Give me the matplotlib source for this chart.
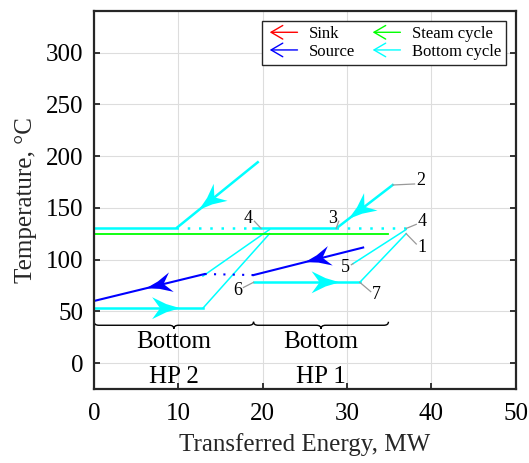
import numpy as np
import matplotlib
matplotlib.use("Agg")
import matplotlib.pyplot as plt
from matplotlib.lines import Line2D
from matplotlib.patches import FancyArrowPatch, Polygon, PathPatch
from matplotlib.path import Path
from matplotlib.legend_handler import HandlerBase

plt.rcParams['font.family'] = ['Liberation Serif', 'DejaVu Serif']

CYAN = '#00FFFF'
BLUE = '#0000FF'
GREEN = '#00FF00'
RED = '#FF0000'
LEADER = '#999999'

# --- bottom heat pump 2 (left) ---
hp2_cond_x = [19.4, 9.7, 0.0]
hp2_cond_y = [194, 130, 130]
hp2_evap_x = [0.0, 12.9]
hp2_evap_y = [53, 53]
hp2_comp_x = [12.9, 20.8]
hp2_comp_y = [53, 125]
hp2_valve_x = [20.8, 12.9]
hp2_valve_y = [129, 84]
hp2_gap_x = [9.7, 18.9]
hp2_gap_y = [130, 130]

# --- bottom heat pump 1 (right) ---
hp1_cond_x = [35.4, 28.7, 18.9]
hp1_cond_y = [172, 130, 130]
hp1_evap_x = [18.9, 31.5]
hp1_evap_y = [78, 78]
hp1_comp_x = [31.5, 37.0]
hp1_comp_y = [78, 125]
hp1_valve_x = [37.0, 30.7]
hp1_valve_y = [129, 96]
hp1_gap_x = [28.7, 37.0]
hp1_gap_y = [130, 130]

# --- source and steam cycle ---
src2_x = [0.0, 13.1]
src2_y = [60, 86]
src_gap_x = [13.1, 18.9]
src_gap_y = [86, 85]
src1_x = [18.9, 31.9]
src1_y = [85, 111.6]
steam_x = [0.0, 34.9]
steam_y = [125, 125]

# state point labels: (text, label x, label y, point x, point y)
point_labels = [
    ('2', 38.7, 176, 35.4, 172),
    ('3', 28.3, 140, 28.7, 130),
    ('4', 38.9, 137, 37.0, 130),
    ('1', 38.9, 112, 37.0, 125),
    ('5', 29.8, 92, 30.7, 96),
    ('7', 33.5, 66, 31.5, 78),
    ('4', 18.3, 140, 19.8, 130),
    ('6', 17.0, 70, 18.9, 78),
]

legend_names = ['Sink', 'Source', 'Steam cycle', 'Bottom cycle']
legend_colors = [RED, BLUE, GREEN, CYAN]

group_names = ['Bottom\nHP 2', 'Bottom\nHP 1']
group_spans = [(0.0, 18.9), (18.9, 34.9)]


class HandlerArrow(HandlerBase):
    def create_artists(self, legend, orig_handle, xdescent, ydescent,
                       width, height, fontsize, trans):
        y = height / 2 - ydescent
        a = FancyArrowPatch((width - xdescent, y), (-xdescent, y),
                            arrowstyle='->,head_length=0.6,head_width=0.35',
                            mutation_scale=14, color=orig_handle.get_color(),
                            lw=1.0, transform=trans)
        return [a]


def arrow_head(ax, xs, ys, tip_frac, color, L=26, W=10, notch=8):
    # notched arrow head with slightly concave sides, built in pixel space
    p0 = ax.transData.transform((xs[0], ys[0]))
    p1 = ax.transData.transform((xs[1], ys[1]))
    d = (p1 - p0) / np.linalg.norm(p1 - p0)
    n = np.array([-d[1], d[0]])
    tip = p0 + (p1 - p0) * tip_frac
    pts = [tip,
           tip - 0.5 * L * d + 0.38 * W * n,
           tip - L * d + W * n,
           tip - (L - notch) * d,
           tip - L * d - W * n,
           tip - 0.5 * L * d - 0.38 * W * n]
    pts = ax.transData.inverted().transform(np.array(pts))
    ax.add_patch(Polygon(pts, closed=True, color=color, lw=0, zorder=4))


def brace(ax, x0, x1, y, h=3.4, dx=0.55):
    xm = (x0 + x1) / 2
    verts = [(x0, y + h), (x0, y), (x0 + dx, y),
             (xm - dx, y), (xm, y), (xm, y - h),
             (xm, y), (xm + dx, y),
             (x1 - dx, y), (x1, y), (x1, y + h)]
    codes = [Path.MOVETO, Path.CURVE3, Path.CURVE3,
             Path.LINETO, Path.CURVE3, Path.CURVE3,
             Path.CURVE3, Path.CURVE3,
             Path.LINETO, Path.CURVE3, Path.CURVE3]
    ax.add_patch(PathPatch(Path(verts, codes), fill=False, ec='black', lw=1.0))


fig = plt.figure(figsize=(5.29, 4.63), dpi=100)
ax = fig.add_axes([0.178, 0.160, 0.797, 0.816])
ax.set_xlim(0, 50)
ax.set_ylim(-25, 340)

# thick = heat exchange, thin = compressor/valve
ax.plot(hp2_cond_x, hp2_cond_y, color=CYAN, lw=1.8)
ax.plot(hp2_evap_x, hp2_evap_y, color=CYAN, lw=1.8)
ax.plot(hp2_comp_x, hp2_comp_y, color=CYAN, lw=1.1)
ax.plot(hp2_valve_x, hp2_valve_y, color=CYAN, lw=1.1)
ax.plot(hp2_gap_x, hp2_gap_y, color=CYAN, lw=1.8, ls=(0, (1, 3.5)))
ax.plot(hp1_cond_x, hp1_cond_y, color=CYAN, lw=1.8)
ax.plot(hp1_evap_x, hp1_evap_y, color=CYAN, lw=1.8)
ax.plot(hp1_comp_x, hp1_comp_y, color=CYAN, lw=1.1)
ax.plot(hp1_valve_x, hp1_valve_y, color=CYAN, lw=1.1)
ax.plot(hp1_gap_x, hp1_gap_y, color=CYAN, lw=1.8, ls=(0, (1, 3.5)))
ax.plot(steam_x, steam_y, color=GREEN, lw=1.3)
ax.plot(src2_x, src2_y, color=BLUE, lw=1.5)
ax.plot(src_gap_x, src_gap_y, color=BLUE, lw=1.5, ls=(0, (1, 3.5)))
ax.plot(src1_x, src1_y, color=BLUE, lw=1.5)

arrow_head(ax, hp2_cond_x[:2], hp2_cond_y[:2], 0.72, CYAN, L=28, W=11)
arrow_head(ax, hp1_cond_x[:2], hp1_cond_y[:2], 0.78, CYAN, L=28, W=11)
arrow_head(ax, hp2_evap_x, hp2_evap_y, 0.79, CYAN, L=28, W=11)
arrow_head(ax, hp1_evap_x, hp1_evap_y, 0.81, CYAN, L=28, W=11)
arrow_head(ax, src2_x[::-1], src2_y[::-1], 0.53, BLUE)
arrow_head(ax, src1_x[::-1], src1_y[::-1], 0.53, BLUE)

for t, lx, ly, px, py in point_labels:
    ax.plot([px, lx - 0.7 * np.sign(lx - px)], [py, ly + 3 * np.sign(py - ly)],
            color=LEADER, lw=0.9)
    ax.text(lx, ly, t, fontsize=13, ha='center', va='center')

for name, (x0, x1) in zip(group_names, group_spans):
    brace(ax, x0, x1, 36.5)
    top, bottom = name.split('\n')
    ax.text((x0 + x1) / 2, 20, top, fontsize=18, ha='center', va='center')
    ax.text((x0 + x1) / 2, -13.5, bottom, fontsize=18, ha='center', va='center')

handles = [Line2D([], [], color=c) for c in legend_colors]
leg = ax.legend(handles, legend_names, handler_map={Line2D: HandlerArrow()},
                ncol=2, loc='upper right', fontsize=12, frameon=True,
                fancybox=False, edgecolor='#262626', framealpha=1,
                handlelength=2.0, handletextpad=0.5, columnspacing=0.9,
                labelspacing=0.1, borderpad=0.3, borderaxespad=0.6)
leg.get_frame().set_linewidth(1.0)

ax.set_xticks(np.arange(0, 51, 10))
ax.set_yticks(np.arange(0, 301, 50))
ax.grid(True, color='#dddddd', lw=0.8)
ax.set_axisbelow(True)
ax.tick_params(direction='in', labelsize=18, top=False, right=True,
               length=4, width=1.3, color='#262626')
ax.tick_params(axis='x', pad=10)
ax.tick_params(axis='y', pad=8)
for s in ax.spines.values():
    s.set_linewidth(1.6)
    s.set_color('#262626')

ax.set_xlabel('Transferred Energy, MW', fontsize=18, color='#262626', labelpad=6)
ax.set_ylabel('Temperature, °C', fontsize=18, color='#262626', labelpad=6)

fig.savefig('out.png', dpi=100)
